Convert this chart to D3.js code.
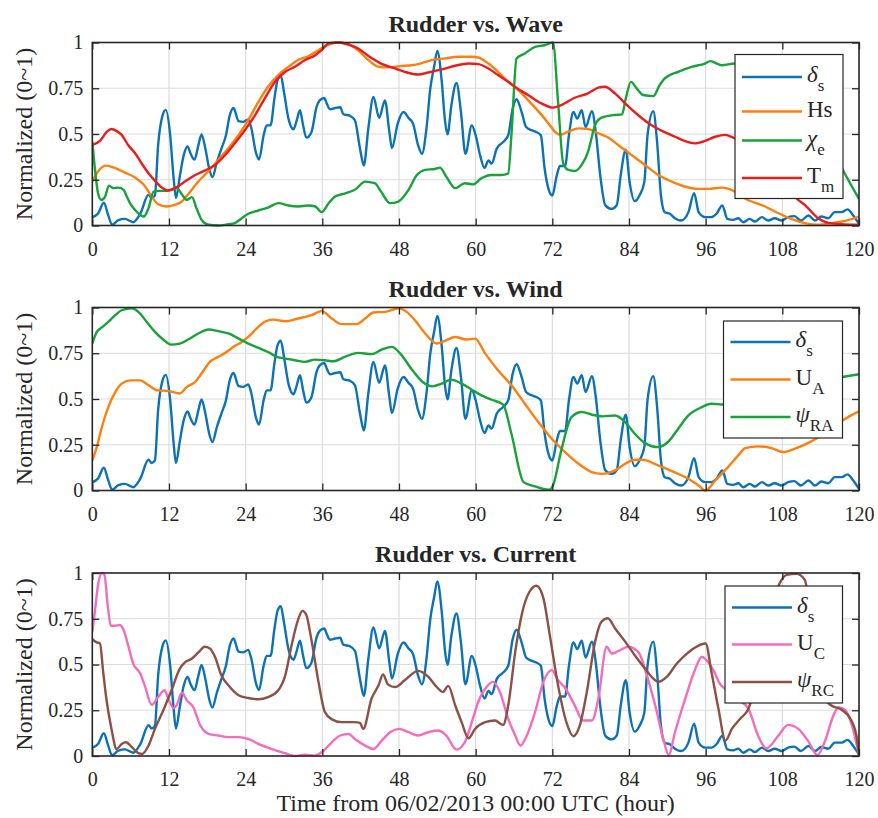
<!DOCTYPE html>
<html>
<head>
<meta charset="utf-8">
<script src="https://cdn.jsdelivr.net/npm/d3@7/dist/d3.min.js"></script>
<style>
  body { margin: 0; background: #fff; }
  svg text { font-family: "Liberation Serif", "Times New Roman", serif; fill: #262626; }
</style>
</head>
<body>
<div id="chart"></div>
<script>
// ticks
const xTicks = [0, 12, 24, 36, 48, 60, 72, 84, 96, 108, 120];
const yTicks = [0, 0.25, 0.5, 0.75, 1];
const yTickLabels = ["0", "0.25", "0.5", "0.75", "1"];

// rudder angle delta_s, [hour, normalized]
const deltaS = [[0,0.045],[0.9,0.065],[1.8,0.124],[2.5,0.055],[3.1,0.004],[4.1,0.03],[5.1,0.036],[6.4,0.018],[7.5,0.064],[8.8,0.168],[9.3,0.15],[9.8,0.164],[10.3,0.438],[11.0,0.602],[11.5,0.632],[12.2,0.49],[12.7,0.27],[13.1,0.15],[13.7,0.27],[14.3,0.383],[14.9,0.432],[15.4,0.392],[16.0,0.36],[16.6,0.438],[17.1,0.498],[17.7,0.42],[18.3,0.31],[18.8,0.265],[19.5,0.347],[20.2,0.42],[20.9,0.49],[21.5,0.6],[22.1,0.642],[22.9,0.57],[23.6,0.566],[24.4,0.58],[24.9,0.53],[25.6,0.40],[26.1,0.361],[26.8,0.49],[27.3,0.547],[27.9,0.547],[28.5,0.693],[29.0,0.794],[29.5,0.818],[30.0,0.73],[30.7,0.584],[31.5,0.526],[32.0,0.575],[32.5,0.63],[33.0,0.547],[33.5,0.48],[34.3,0.51],[35.1,0.648],[35.6,0.684],[36.3,0.697],[36.7,0.666],[37.2,0.635],[38.0,0.642],[38.8,0.646],[39.3,0.608],[40.3,0.6],[41.1,0.575],[41.9,0.42],[42.5,0.328],[43.2,0.53],[44.0,0.703],[44.9,0.588],[45.8,0.684],[46.5,0.51],[46.9,0.423],[47.8,0.557],[48.7,0.62],[49.5,0.588],[50.2,0.557],[51.0,0.438],[51.6,0.392],[52.3,0.53],[52.9,0.748],[53.5,0.867],[54.0,0.954],[54.7,0.785],[55.2,0.575],[55.6,0.498],[56.2,0.657],[57.0,0.779],[57.7,0.62],[58.4,0.392],[59.4,0.547],[60.0,0.493],[60.7,0.383],[61.4,0.314],[62.0,0.356],[62.5,0.338],[63.3,0.42],[64.3,0.456],[65.1,0.493],[65.8,0.639],[66.4,0.69],[67.2,0.62],[67.9,0.538],[68.8,0.52],[69.5,0.511],[70.2,0.493],[70.8,0.31],[71.4,0.2],[72.0,0.164],[72.7,0.274],[73.2,0.325],[74.0,0.325],[74.6,0.493],[75.3,0.62],[75.9,0.584],[76.6,0.63],[77.2,0.538],[78.2,0.624],[78.8,0.511],[79.5,0.274],[80.3,0.11],[81.3,0.091],[82.1,0.113],[82.7,0.274],[83.5,0.414],[84.1,0.237],[84.9,0.133],[85.7,0.168],[86.4,0.237],[86.9,0.493],[87.8,0.624],[88.4,0.456],[89.0,0.164],[89.6,0.073],[90.4,0.064],[91.2,0.04],[92.2,0.027],[93.3,0.073],[94.2,0.177],[94.9,0.073],[95.9,0.046],[96.9,0.046],[97.7,0.064],[98.6,0.11],[99.4,0.036],[100.3,0.031],[101.1,0.04],[101.9,0.018],[102.9,0.036],[103.7,0.022],[104.8,0.046],[105.8,0.027],[106.8,0.04],[107.9,0.027],[108.9,0.046],[109.9,0.051],[110.9,0.027],[112.1,0.055],[113.1,0.027],[114.1,0.049],[115.2,0.04],[116.2,0.073],[117.3,0.073],[118.2,0.088],[119.1,0.055],[120,0.009]];

// wave
const hs = [[0,0.24],[0.9,0.295],[2.1,0.327],[3.6,0.313],[5.1,0.289],[6.7,0.262],[8.0,0.225],[9.3,0.158],[10.3,0.116],[11.6,0.104],[12.9,0.113],[14.0,0.131],[15.0,0.171],[16.6,0.24],[18.2,0.298],[19.7,0.358],[21.3,0.422],[22.9,0.495],[24.4,0.576],[26.0,0.676],[27.5,0.758],[29.1,0.822],[30.7,0.867],[32.2,0.904],[33.8,0.925],[35.4,0.958],[37.0,0.989],[38.5,1.0],[40.1,0.99],[41.6,0.958],[43.4,0.898],[44.8,0.867],[46.3,0.864],[48.2,0.871],[50.0,0.876],[51.3,0.885],[53.1,0.904],[55.2,0.913],[57.3,0.922],[59.4,0.922],[60.4,0.918],[62.0,0.885],[63.5,0.84],[65.1,0.785],[66.7,0.74],[68.2,0.685],[69.8,0.625],[71.4,0.558],[72.4,0.513],[73.2,0.495],[74.5,0.513],[76.1,0.531],[77.6,0.527],[79.2,0.504],[80.8,0.48],[82.3,0.44],[84.4,0.385],[86.5,0.331],[88.6,0.276],[90.7,0.24],[92.7,0.213],[94.8,0.2],[96.4,0.2],[98.5,0.207],[100.6,0.185],[102.1,0.149],[105.3,0.104],[107.4,0.067],[109.4,0.036],[111.5,0.013],[113.6,0.004],[115.7,0.013],[117.8,0.025],[120,0.049]];
const chiE = [[0,0.458],[0.4,0.313],[0.9,0.176],[1.4,0.14],[2.0,0.158],[2.6,0.218],[3.3,0.204],[4.1,0.207],[4.9,0.195],[5.4,0.158],[5.9,0.122],[6.7,0.085],[7.5,0.058],[8.1,0.049],[8.8,0.095],[9.6,0.185],[10.3,0.189],[11.6,0.189],[12.4,0.195],[13.2,0.204],[14.0,0.171],[14.8,0.14],[15.6,0.155],[16.3,0.095],[17.1,0.031],[18.2,0.004],[19.7,0],[21.3,0.007],[22.3,0.013],[23.4,0.04],[24.4,0.064],[26.0,0.082],[27.5,0.098],[29.1,0.122],[30.7,0.109],[32.2,0.104],[33.8,0.109],[34.9,0.104],[35.9,0.073],[37.0,0.122],[38.0,0.158],[39.6,0.176],[41.1,0.195],[42.7,0.24],[44.2,0.231],[45.2,0.185],[46.6,0.122],[47.9,0.131],[49.5,0.195],[50.8,0.276],[52.1,0.304],[53.6,0.309],[54.4,0.316],[55.4,0.267],[56.8,0.204],[58.3,0.231],[59.6,0.225],[60.9,0.258],[62.5,0.276],[64.0,0.276],[65.1,0.285],[65.6,0.495],[66.4,0.913],[67.7,0.94],[69.3,0.976],[70.8,0.985],[72.1,1.0],[72.9,0.676],[73.7,0.34],[74.5,0.304],[75.5,0.298],[76.6,0.331],[77.6,0.404],[78.7,0.549],[79.7,0.589],[81.8,0.604],[82.9,0.607],[83.5,0.695],[84.3,0.785],[85.2,0.749],[86.2,0.713],[87.8,0.707],[88.8,0.767],[89.6,0.804],[91.7,0.84],[93.8,0.867],[95.9,0.885],[96.7,0.898],[98.5,0.876],[100.6,0.885],[103,0.88],[106,0.85],[110,0.75],[114,0.55],[117.6,0.295],[120,0.145]];
const tm = [[0,0.44],[1.2,0.462],[2.3,0.513],[3.0,0.527],[3.8,0.516],[4.6,0.495],[5.6,0.44],[6.7,0.395],[7.7,0.34],[8.8,0.285],[9.8,0.244],[10.9,0.207],[11.8,0.191],[12.9,0.204],[14.5,0.24],[16.1,0.276],[17.6,0.3],[19.2,0.331],[20.8,0.385],[22.3,0.449],[23.9,0.522],[25.5,0.604],[27.0,0.695],[28.6,0.785],[30.2,0.84],[31.7,0.867],[33.3,0.904],[34.9,0.931],[35.9,0.958],[37.0,0.995],[38.5,1.0],[40.1,0.989],[41.6,0.967],[43.4,0.922],[45.2,0.885],[47.4,0.858],[48.9,0.84],[51.0,0.825],[52.6,0.836],[54.7,0.853],[56.8,0.873],[58.9,0.885],[60.4,0.882],[62.0,0.858],[63.5,0.822],[65.1,0.785],[66.7,0.745],[68.2,0.713],[70.3,0.667],[72.1,0.644],[73.4,0.658],[75.5,0.698],[77.6,0.722],[79.2,0.753],[80.2,0.758],[81.8,0.722],[83.4,0.667],[85.4,0.604],[87.5,0.549],[89.4,0.513],[91.2,0.485],[92.7,0.462],[94.3,0.449],[95.9,0.462],[97.5,0.485],[99.0,0.495],[100.6,0.476],[103,0.44],[106,0.35],[108.5,0.23],[110.2,0.149],[111.5,0.113],[113.6,0.04],[116,0.01],[120,0.004]];

// wind
const uA = [[0,0.164],[0.7,0.237],[1.5,0.347],[2.5,0.456],[3.6,0.538],[4.6,0.584],[5.9,0.602],[7.5,0.602],[8.8,0.575],[10.3,0.547],[11.9,0.544],[13.7,0.53],[14.8,0.566],[16.1,0.593],[17.1,0.639],[18.4,0.703],[19.7,0.73],[20.8,0.752],[22.1,0.785],[23.4,0.812],[24.4,0.839],[25.7,0.885],[27.0,0.922],[28.3,0.934],[30.2,0.925],[32.2,0.94],[34.3,0.958],[35.9,0.98],[37.5,0.94],[39.0,0.909],[41.4,0.909],[42.7,0.94],[44.0,0.973],[45.8,0.976],[48.0,0.995],[49.2,0.976],[50.5,0.93],[52.1,0.858],[53.9,0.803],[55.2,0.818],[56.8,0.839],[58.6,0.825],[59.9,0.83],[61.5,0.748],[63.5,0.657],[65.6,0.575],[67.7,0.474],[69.8,0.374],[71.9,0.283],[74.0,0.21],[76.1,0.146],[78.2,0.1],[79.7,0.091],[81.8,0.11],[83.4,0.146],[84.9,0.168],[86.2,0.168],[88.0,0.146],[90.7,0.106],[93.3,0.064],[94.9,0.027],[96.0,0],[97.5,0.055],[99.5,0.128],[101.1,0.192],[102.2,0.232],[104.2,0.241],[106.3,0.232],[108.1,0.21],[109.9,0.228],[112.0,0.259],[114.1,0.301],[116.2,0.356],[118.3,0.401],[120,0.432]];
const psiRA = [[0,0.803],[0.7,0.867],[1.5,0.891],[2.5,0.922],[3.6,0.958],[4.6,0.985],[6.2,0.996],[7.2,0.976],[8.5,0.922],[9.8,0.867],[11.1,0.825],[12.3,0.797],[13.7,0.803],[15.0,0.825],[16.6,0.858],[18.2,0.88],[19.7,0.871],[21.3,0.858],[22.9,0.83],[24.4,0.803],[26.0,0.779],[27.5,0.757],[28.9,0.73],[30.2,0.721],[31.7,0.712],[33.3,0.703],[34.8,0.715],[36.4,0.712],[37.7,0.706],[39.5,0.73],[41.6,0.752],[43.7,0.745],[45.3,0.77],[46.9,0.785],[48.2,0.748],[50.1,0.657],[51.7,0.593],[53.2,0.569],[54.7,0.584],[56.2,0.606],[57.8,0.584],[59.4,0.551],[60.9,0.52],[62.5,0.496],[64.3,0.469],[65.6,0.31],[67.5,0.046],[69.3,0.022],[71.5,0.004],[72.1,0.027],[73.4,0.219],[75.0,0.401],[76.6,0.429],[78.2,0.414],[79.9,0.405],[81.8,0.41],[83.4,0.374],[84.9,0.31],[86.5,0.259],[88.6,0.237],[90.1,0.265],[91.7,0.338],[93.3,0.41],[95.4,0.456],[96.9,0.474],[98.7,0.47],[102,0.5],[108,0.55],[114,0.6],[117.4,0.62],[120,0.635]];

// current
const uC = [[0,0.679],[0.4,0.789],[0.9,0.936],[1.5,1.0],[1.9,0.991],[2.4,0.826],[2.9,0.712],[3.6,0.712],[4.3,0.716],[4.9,0.689],[5.6,0.606],[6.4,0.505],[7.5,0.451],[8.2,0.386],[9.3,0.28],[10.3,0.322],[11.3,0.359],[11.9,0.313],[12.7,0.262],[13.2,0.277],[14.0,0.346],[14.8,0.304],[15.8,0.267],[16.9,0.167],[18.2,0.121],[19.7,0.112],[21.3,0.103],[22.9,0.103],[24.4,0.093],[26.0,0.066],[28.1,0.038],[30.2,0.015],[31.7,0],[33.3,0.007],[34.8,0.002],[36.2,0.029],[37.5,0.075],[38.8,0.112],[40.1,0.121],[41.1,0.093],[42.7,0.057],[44.0,0.038],[45.3,0.084],[46.6,0.13],[48.0,0.148],[49.5,0.13],[51.0,0.112],[52.6,0.13],[54.1,0.139],[55.4,0.112],[57.0,0.035],[58.3,0.075],[59.4,0.185],[60.4,0.295],[61.7,0.377],[62.7,0.405],[63.8,0.35],[65.1,0.203],[66.2,0.112],[67.0,0.057],[68.0,0.112],[69.3,0.24],[70.6,0.405],[71.9,0.469],[72.9,0.414],[73.9,0.377],[75.5,0.277],[76.8,0.194],[78.2,0.194],[79.2,0.313],[80.5,0.597],[81.3,0.56],[82.3,0.573],[83.9,0.597],[85.5,0.566],[86.8,0.441],[88.1,0.277],[89.5,0.075],[90.2,0.005],[91.2,0.13],[92.8,0.313],[94.3,0.469],[95.4,0.542],[96.1,0.524],[97.2,0.469],[98.2,0.396],[99.0,0.368],[101,0.31],[102.7,0.258],[104.2,0.112],[105.5,0.042],[107.4,0.112],[108.9,0.17],[110.5,0.148],[112.0,0.084],[113.5,0.005],[114.7,0.084],[116.0,0.222],[116.8,0.267],[117.9,0.249],[118.9,0.167],[120,0.005]];
const psiRC = [[0,0.639],[0.7,0.621],[1.2,0.615],[1.7,0.46],[2.2,0.313],[3.0,0.148],[3.8,0.038],[4.6,0.066],[5.3,0.075],[6.2,0.048],[7.2,0.016],[7.8,0.011],[8.8,0.057],[9.8,0.148],[11.1,0.249],[12.4,0.359],[13.7,0.478],[14.5,0.511],[15.6,0.533],[16.6,0.566],[17.6,0.597],[18.4,0.588],[19.2,0.542],[20.2,0.441],[21.3,0.386],[22.9,0.332],[24.4,0.317],[26.0,0.31],[27.5,0.322],[29.1,0.359],[30.2,0.441],[31.2,0.606],[32.2,0.744],[32.9,0.793],[33.5,0.771],[34.3,0.634],[35.4,0.405],[36.4,0.24],[37.5,0.2],[39.0,0.185],[41.0,0.185],[41.9,0.181],[42.4,0.148],[43.7,0.313],[44.8,0.386],[45.5,0.445],[46.3,0.39],[47.4,0.377],[48.9,0.414],[51.0,0.465],[52.6,0.432],[53.9,0.377],[54.9,0.35],[55.7,0.383],[56.8,0.277],[57.8,0.185],[58.9,0.097],[59.9,0.148],[61.5,0.185],[63.0,0.194],[64.3,0.17],[65.1,0.277],[66.2,0.57],[67.2,0.771],[68.4,0.896],[69.5,0.93],[70.6,0.863],[71.6,0.661],[72.9,0.386],[74.2,0.185],[75.3,0.108],[76.3,0.167],[77.4,0.35],[78.7,0.625],[79.7,0.734],[80.7,0.753],[81.8,0.698],[83.4,0.625],[84.9,0.551],[86.5,0.478],[87.8,0.423],[88.6,0.405],[89.9,0.432],[91.5,0.505],[92.8,0.551],[94.3,0.592],[96.0,0.615],[96.9,0.46],[98.0,0.258],[99.1,0.084],[100.1,0.148],[101.4,0.203],[102.7,0.258],[104.5,0.5],[106.2,0.8],[107.4,0.93],[108.7,0.99],[110.2,0.995],[111.5,0.963],[112.5,0.75],[113.5,0.5],[114.5,0.32],[115.5,0.28],[117.4,0.25],[118.8,0.194],[119.6,0.112],[120,0.005]];

// colours
const cBlue = "#0b72b5", cOrange = "#ff7f0e", cGreen = "#17a23a",
      cRed = "#ec1c1c", cPink = "#f56cbc", cBrown = "#8c5044";

// layout
const W = 878, H = 818;
const left = 92.3, right = 859;
const plotH = 183;
const tops = [42.5, 307.5, 573];
const serif = '"Liberation Serif", "Times New Roman", serif';

const panels = [
  { title: "Rudder vs. Wave", top: tops[0],
    legend: { x: 735, y: 54.5, w: 108, h: 144, rows: [22.5, 57, 86, 123.5] },
    series: [
      { data: deltaS, color: cBlue, main: "δ", italic: true, sub: "s" },
      { data: hs, color: cOrange, main: "Hs", italic: false, sub: "" },
      { data: chiE, color: cGreen, main: "χ", italic: true, sub: "e" },
      { data: tm, color: cRed, main: "T", italic: false, sub: "m" }
    ] },
  { title: "Rudder vs. Wind", top: tops[1],
    legend: { x: 723.5, y: 321, w: 119, h: 117, rows: [21, 58.5, 96] },
    series: [
      { data: deltaS, color: cBlue, main: "δ", italic: true, sub: "s" },
      { data: uA, color: cOrange, main: "U", italic: false, sub: "A" },
      { data: psiRA, color: cGreen, main: "ψ", italic: true, sub: "RA" }
    ] },
  { title: "Rudder vs. Current", top: tops[2],
    legend: { x: 725, y: 586, w: 117.5, h: 117, rows: [21.5, 58.5, 96] },
    series: [
      { data: deltaS, color: cBlue, main: "δ", italic: true, sub: "s" },
      { data: uC, color: cPink, main: "U", italic: false, sub: "C" },
      { data: psiRC, color: cBrown, main: "ψ", italic: true, sub: "RC" }
    ] }
];

const svg = d3.select("#chart").append("svg")
  .attr("width", W).attr("height", H);

const x = d3.scaleLinear().domain([0, 120]).range([left, right]);

panels.forEach(function (p, pi) {
  const y = d3.scaleLinear().domain([0, 1]).range([p.top + plotH, p.top]);
  const g = svg.append("g");

  // grid
  g.append("g").selectAll("line").data(xTicks.slice(1, -1)).enter().append("line")
    .attr("x1", d => x(d)).attr("x2", d => x(d))
    .attr("y1", y(0)).attr("y2", y(1))
    .attr("stroke", "#dcdcdc").attr("stroke-width", 1.2);
  g.append("g").selectAll("line").data(yTicks.slice(1, -1)).enter().append("line")
    .attr("y1", d => y(d)).attr("y2", d => y(d))
    .attr("x1", left).attr("x2", right)
    .attr("stroke", "#dcdcdc").attr("stroke-width", 1.2);

  // lines
  const clipId = "clip" + pi;
  svg.append("clipPath").attr("id", clipId).append("rect")
    .attr("x", left).attr("y", p.top - 2).attr("width", right - left).attr("height", plotH + 4);
  const line = d3.line().x(d => x(d[0])).y(d => y(d[1])).curve(d3.curveMonotoneX);
  g.append("g").attr("clip-path", "url(#" + clipId + ")")
    .selectAll("path").data(p.series).enter().append("path")
    .attr("d", s => line(s.data))
    .attr("fill", "none").attr("stroke", s => s.color)
    .attr("stroke-width", 2.4).attr("stroke-linejoin", "round");

  // axes, ticks inside
  const xAxis = d3.axisBottom(x).tickValues(xTicks).tickSizeInner(-7).tickSizeOuter(0).tickPadding(16);
  const xTop = d3.axisTop(x).tickValues(xTicks).tickSizeInner(-7).tickSizeOuter(0).tickFormat("");
  const yAxis = d3.axisLeft(y).tickValues(yTicks).tickSizeInner(-7).tickSizeOuter(0).tickPadding(9)
    .tickFormat((d, i) => yTickLabels[i]);
  const yRight = d3.axisRight(y).tickValues(yTicks).tickSizeInner(-7).tickSizeOuter(0).tickFormat("");

  const axes = [
    g.append("g").attr("transform", `translate(0,${y(0)})`).call(xAxis),
    g.append("g").attr("transform", `translate(0,${y(1)})`).call(xTop),
    g.append("g").attr("transform", `translate(${left},0)`).call(yAxis),
    g.append("g").attr("transform", `translate(${right},0)`).call(yRight)
  ];
  axes.forEach(a => {
    a.attr("font-family", serif).attr("font-size", 20);
    a.select(".domain").remove();
    a.selectAll(".tick line").attr("stroke", "#262626").attr("stroke-width", 1.3);
    a.selectAll("text").attr("font-family", serif).attr("font-size", 20).attr("fill", "#262626");
  });
  // box
  g.append("rect")
    .attr("x", left).attr("y", p.top).attr("width", right - left).attr("height", plotH)
    .attr("fill", "none").attr("stroke", "#262626").attr("stroke-width", 1.6);

  // title
  svg.append("text").text(p.title)
    .attr("x", (left + right) / 2).attr("y", p.top - 11)
    .attr("text-anchor", "middle")
    .style("font-size", "24px").style("font-weight", "bold").attr("fill", "#000");

  // y label
  svg.append("text").text("Normalized (0~1)")
    .attr("transform", `translate(32,${p.top + plotH / 2}) rotate(-90)`)
    .attr("text-anchor", "middle")
    .style("font-size", "24px");

  // legend
  const L = p.legend;
  const lg = svg.append("g").attr("transform", `translate(${L.x},${L.y})`);
  lg.append("rect").attr("width", L.w).attr("height", L.h)
    .attr("fill", "#fff").attr("stroke", "#262626").attr("stroke-width", 1.2);
  p.series.forEach(function (s, i) {
    const ry = L.rows[i];
    lg.append("line").attr("x1", 7).attr("x2", 67).attr("y1", ry).attr("y2", ry)
      .attr("stroke", s.color).attr("stroke-width", 2.4);
    const t = lg.append("text").attr("x", 72).attr("y", ry + 5).style("font-size", "23px");
    t.append("tspan").text(s.main).style("font-style", s.italic ? "italic" : "normal");
    if (s.sub) {
      t.append("tspan").text(s.sub).attr("dy", 9).style("font-size", "17px");
    }
  });
});

// x label
svg.append("text").text("Time from 06/02/2013 00:00 UTC (hour)")
  .attr("x", (left + right) / 2).attr("y", 811)
  .attr("text-anchor", "middle")
  .style("font-size", "24px");
</script>
</body>
</html>
